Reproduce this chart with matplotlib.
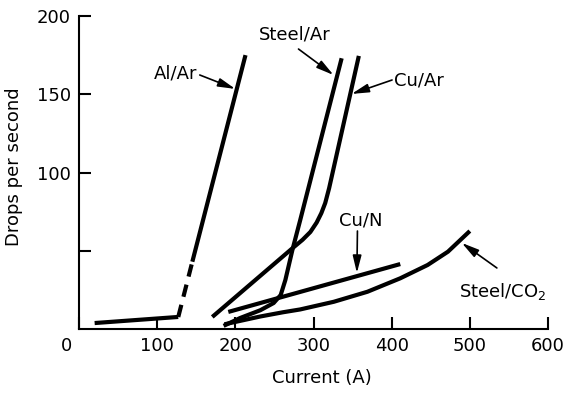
import matplotlib
matplotlib.use('Agg')
import matplotlib.pyplot as plt

# values (current in A, drops per second)
al_flat_x = [20, 127]
al_flat_y = [3.8, 7.7]
al_dash_x = [127, 145]
al_dash_y = [7.7, 43]
al_rise_x = [145, 213]
al_rise_y = [43, 175]

steel_ar_x = [185, 206, 232, 249, 258, 264, 273, 283, 336]
steel_ar_y = [2, 7, 12, 16.6, 21.7, 31.3, 50.5, 69.6, 173]

cu_ar_x = [170.5, 274, 286, 296, 304, 310, 315, 320, 358]
cu_ar_y = [7.7, 52, 57, 62, 68, 74, 80.5, 90, 174.5]

cu_n_x = [191, 411]
cu_n_y = [10.9, 41.5]

steel_co2_x = [186, 232, 261, 283, 326, 369, 411, 446, 472, 500]
steel_co2_y = [3, 8, 10.7, 12.5, 17.4, 23.8, 32.4, 40.9, 49.4, 62.6]

xticks = [0, 100, 200, 300, 400, 500, 600]
xtick_labels = ['', '100', '200', '300', '400', '500', '600']
yticks = [50, 100, 150, 200]
ytick_labels = ['', '100', '150', '200']

plt.rcParams['font.family'] = ['DejaVu Sans']
plt.rcParams['font.size'] = 13
plt.rcParams['mathtext.default'] = 'regular'

fig = plt.figure(figsize=(5.66, 3.94), dpi=100)
ax = fig.add_axes([79 / 566, 65 / 394, 469 / 566, 313 / 394])

kw = dict(color='black', lw=3, solid_capstyle='butt', solid_joinstyle='round', clip_on=False)
ax.plot(al_flat_x, al_flat_y, **kw)
ax.plot(al_dash_x, al_dash_y, color='black', lw=3, linestyle=(0, (3, 2)), dash_capstyle='butt')
ax.plot(al_rise_x, al_rise_y, **kw)
ax.plot(steel_ar_x, steel_ar_y, **kw)
ax.plot(cu_ar_x, cu_ar_y, **kw)
ax.plot(cu_n_x, cu_n_y, **kw)
ax.plot(steel_co2_x, steel_co2_y, **kw)

arrow = dict(arrowstyle='-|>,head_length=0.8,head_width=0.2', color='black',
             lw=1.2, shrinkA=0, shrinkB=0)

ax.text(151.3, 163, 'Al/Ar', ha='right', va='center')
ax.annotate('', xy=(200, 153.4), xytext=(154.5, 162.3), arrowprops=arrow)

ax.text(275.6, 187.9, 'Steel/Ar', ha='center', va='center')
ax.annotate('', xy=(325.6, 162.3), xytext=(280.8, 178.9), arrowprops=arrow)

ax.text(402.6, 159.1, 'Cu/Ar', ha='left', va='center')
ax.annotate('', xy=(348.7, 150.2), xytext=(400.5, 159.1), arrowprops=arrow)

ax.text(360.3, 69.6, 'Cu/N', ha='center', va='center')
ax.annotate('', xy=(355.5, 35.8), xytext=(356.2, 62.6), arrowprops=arrow)

ax.text(485.9, 20.4, 'Steel/CO$_2$', ha='left', va='baseline')
ax.annotate('', xy=(489.7, 55), xytext=(534.6, 39), arrowprops=arrow)

ax.set_xlim(0, 600)
ax.set_ylim(0, 200)
ax.spines['top'].set_visible(False)
ax.spines['right'].set_visible(False)
ax.spines['left'].set_linewidth(1.5)
ax.spines['bottom'].set_linewidth(1.5)

ax.set_xticks(xticks)
ax.set_xticklabels(xtick_labels)
ax.set_yticks(yticks)
ax.set_yticklabels(ytick_labels)
ax.tick_params(direction='in', length=8.6, width=1.5, pad=6)
ax.annotate('0', xy=(0, 0), xytext=(-12, -8), textcoords='offset pixels',
            ha='center', va='top')

ax.set_xlabel('Current (A)')
ax.xaxis.set_label_coords(0.518, -0.128)
ax.set_ylabel('Drops per second')
ax.yaxis.set_label_coords(-0.119, 0.518)

fig.savefig('out.png', dpi=100)
